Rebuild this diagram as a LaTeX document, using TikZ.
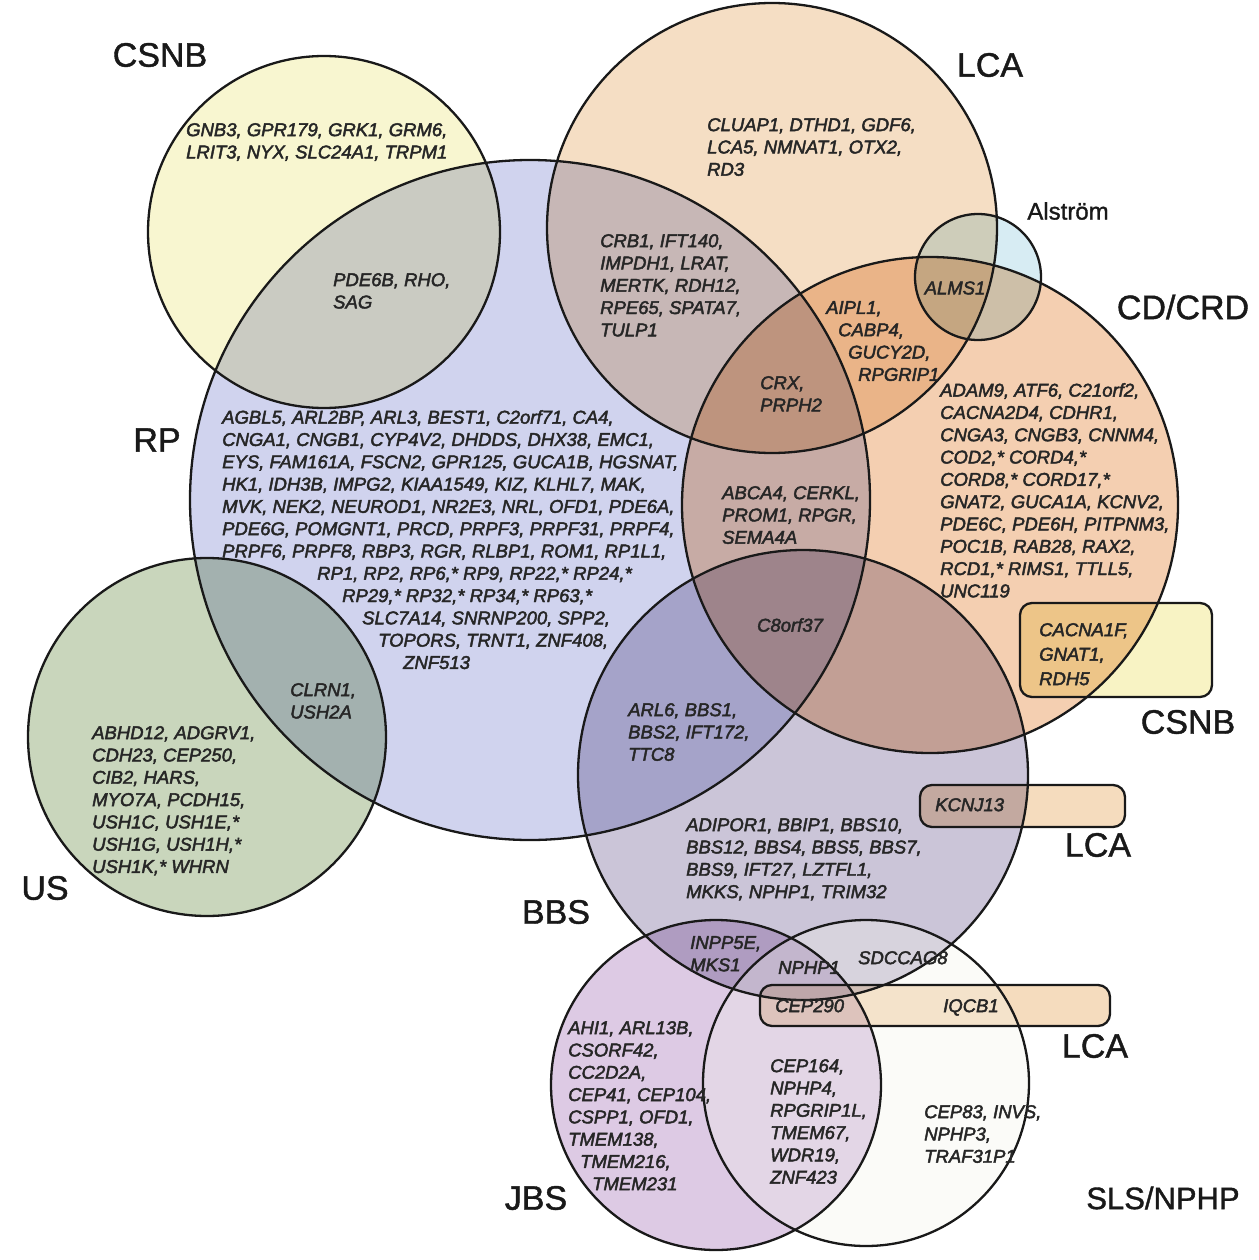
\documentclass[tikz,border=0pt]{standalone}
\usepackage{fontspec}
\setmainfont{Liberation Sans}
\newfontfamily\genefont{Liberation Sans}[ItalicFeatures={FakeBold=2.4}]
\newfontfamily\labfont{Liberation Sans}[FakeBold=1.2]
\definecolor{csnbY}{HTML}{F8F6D0}
\definecolor{rpB}{HTML}{D0D3EE}
\definecolor{lcaO}{HTML}{F5DEC4}
\definecolor{cdO}{HTML}{F4CFB1}
\definecolor{alsB}{HTML}{D7ECF3}
\definecolor{bbsP}{HTML}{CBC5D8}
\definecolor{usG}{HTML}{C9D6BC}
\definecolor{jbsP}{HTML}{DDCAE4}
\definecolor{slsW}{HTML}{F3F4EB}
\definecolor{rectY}{HTML}{F8F3C4}
\definecolor{rectO}{HTML}{F5DCBE}
\begin{document}
\begin{tikzpicture}[x=1pt,y=-1pt,
  gene/.style={font=\genefont\fontsize{18.5}{22.3}\selectfont\itshape, align=left, anchor=north west, inner sep=0pt, text=black!85},
  genec/.style={font=\genefont\fontsize{18.5}{22.3}\selectfont\itshape, align=center, inner sep=0pt, text=black!85},
  lab/.style={font=\labfont\fontsize{34}{38}\selectfont, inner sep=0pt, text=black!90},
  ring/.style={draw=black!90, line width=2.3pt},
  box/.style={draw=black!90, line width=2.3pt, rounded corners=12pt}]
\useasboundingbox (0,0) rectangle (1258,1260);
\fill[white] (0,0) rectangle (1258,1260);
% fills
\begin{scope}[blend mode=multiply]
\fill[rpB] (530,500) circle[radius=340pt];
\fill[csnbY] (324,232) circle[radius=176pt];
\fill[lcaO] (772,228) circle[radius=225pt];
\fill[alsB] (978,277) circle[radius=63pt];
\fill[cdO] (930,505) circle[radius=248pt];
\fill[bbsP] (803,775) circle[radius=225pt];
\fill[usG] (207,737) circle[radius=179pt];
\fill[jbsP] (716,1085) circle[radius=165pt];
\fill[rectY] (1020,603) [rounded corners=12pt] rectangle (1212,697);
\fill[rectO] (920,785) [rounded corners=12pt] rectangle (1125,827);
\fill[rectO] (760,985) [rounded corners=12pt] rectangle (1110,1026);
\end{scope}
\fill[slsW, opacity=0.3] (866,1083) circle[radius=163pt];
% outlines
\draw[ring] (530,500) circle[radius=340pt];
\draw[ring] (324,232) circle[radius=176pt];
\draw[ring] (772,228) circle[radius=225pt];
\draw[ring] (978,277) circle[radius=63pt];
\draw[ring] (930,505) circle[radius=248pt];
\draw[ring] (803,775) circle[radius=225pt];
\draw[ring] (207,737) circle[radius=179pt];
\draw[ring] (716,1085) circle[radius=165pt];
\draw[ring] (866,1083) circle[radius=163pt];
\draw[box] (1020,603) rectangle (1212,697);
\draw[box] (920,785) rectangle (1125,827);
\draw[box] (760,985) rectangle (1110,1026);
% labels
\node[lab] (lCSNB) at (160,55) {CSNB};
\node[lab] (lLCA) at (990,65) {LCA};
\node[lab, font=\labfont\fontsize{24}{28}\selectfont] (lAls) at (1068,211) {Alström};
\node[lab] (lCD) at (1183,307) {CD/CRD};
\node[lab] (lRP) at (157,440) {RP};
\node[lab] (lUS) at (45,888) {US};
\node[lab] (lBBS) at (556,912) {BBS};
\node[lab] (lJBS) at (536,1198) {JBS};
\node[lab, font=\labfont\fontsize{31}{35}\selectfont] (lSLS) at (1163,1198) {SLS/NPHP};
\node[lab] (lCSNB2) at (1188,722) {CSNB};
\node[lab] (lLCA2) at (1098,845) {LCA};
\node[lab] (lLCA3) at (1095,1046) {LCA};
% genes
\node[gene] (gCSNB) at (186,123) {GNB3, GPR179, GRK1, GRM6,\\LRIT3, NYX, SLC24A1, TRPM1};
\node[gene] (gPDE) at (333,273) {PDE6B, RHO,\\SAG};
\node[gene] (gLCA) at (707,118) {CLUAP1, DTHD1, GDF6,\\LCA5, NMNAT1, OTX2,\\RD3};
\node[gene] (gCRB) at (600,234) {CRB1, IFT140,\\IMPDH1, LRAT,\\MERTK, RDH12,\\RPE65, SPATA7,\\TULP1};
\node[genec] (gALMS) at (955,288) {ALMS1};
\node[gene] (gAIPL) at (826,301) {AIPL1,\\\hspace*{12pt}CABP4,\\\hspace*{22pt}GUCY2D,\\\hspace*{32pt}RPGRIP1};
\node[gene] (gCRX) at (760,376) {CRX,\\PRPH2};
\node[gene] (gABCA) at (722,486) {ABCA4, CERKL,\\PROM1, RPGR,\\SEMA4A};
\node[gene] (gCD) at (940,383) {ADAM9, ATF6, C21orf2,\\CACNA2D4, CDHR1,\\CNGA3, CNGB3, CNNM4,\\COD2,* CORD4,*\\CORD8,* CORD17,*\\GNAT2, GUCA1A, KCNV2,\\PDE6C, PDE6H, PITPNM3,\\POC1B, RAB28, RAX2,\\RCD1,* RIMS1, TTLL5,\\UNC119};
\node[gene] (gRP) at (222,410) {AGBL5, ARL2BP, ARL3, BEST1, C2orf71, CA4,\\CNGA1, CNGB1, CYP4V2, DHDDS, DHX38, EMC1,\\EYS, FAM161A, FSCN2, GPR125, GUCA1B, HGSNAT,\\HK1, IDH3B, IMPG2, KIAA1549, KIZ, KLHL7, MAK,\\MVK, NEK2, NEUROD1, NR2E3, NRL, OFD1, PDE6A,\\PDE6G, POMGNT1, PRCD, PRPF3, PRPF31, PRPF4,\\PRPF6, PRPF8, RBP3, RGR, RLBP1, ROM1, RP1L1,\\\hspace*{95pt}RP1, RP2, RP6,* RP9, RP22,* RP24,*\\\hspace*{120pt}RP29,* RP32,* RP34,* RP63,*\\\hspace*{140pt}SLC7A14, SNRNP200, SPP2,\\\hspace*{156pt}TOPORS, TRNT1, ZNF408,\\\hspace*{181pt}ZNF513};
\node[genec] (gC8) at (790,625) {C8orf37};
\node[gene, font=\genefont\fontsize{18.5}{24.5}\selectfont\itshape] (gCAC) at (1039,623) {CACNA1F,\\GNAT1,\\RDH5};
\node[gene] (gARL) at (628,703) {ARL6, BBS1,\\BBS2, IFT172,\\TTC8};
\node[gene] (gADI) at (686,818) {ADIPOR1, BBIP1, BBS10,\\BBS12, BBS4, BBS5, BBS7,\\BBS9, IFT27, LZTFL1,\\MKKS, NPHP1, TRIM32};
\node[gene] (gKCN) at (935,798) {KCNJ13};
\node[gene] (gCLR) at (290,683) {CLRN1,\\USH2A};
\node[gene] (gUS) at (92,726) {ABHD12, ADGRV1,\\CDH23, CEP250,\\CIB2, HARS,\\MYO7A, PCDH15,\\USH1C, USH1E,*\\USH1G, USH1H,*\\USH1K,* WHRN};
\node[gene] (gINP) at (690,936) {INPP5E,\\MKS1};
\node[gene] (gNPH) at (778,961) {NPHP1};
\node[gene] (gSDC) at (858,951) {SDCCAG8};
\node[gene] (gCEP290) at (775,999) {CEP290};
\node[gene] (gIQC) at (943,999) {IQCB1};
\node[gene] (gJBS) at (568,1021) {AHI1, ARL13B,\\CSORF42,\\CC2D2A,\\CEP41, CEP104,\\CSPP1, OFD1,\\TMEM138,\\\hspace*{12pt}TMEM216,\\\hspace*{24pt}TMEM231};
\node[gene] (gCEP164) at (770,1059) {CEP164,\\NPHP4,\\RPGRIP1L,\\TMEM67,\\WDR19,\\ZNF423};
\node[gene] (gCEP83) at (924,1105) {CEP83, INVS,\\NPHP3,\\TRAF31P1};
\end{tikzpicture}
\end{document}
